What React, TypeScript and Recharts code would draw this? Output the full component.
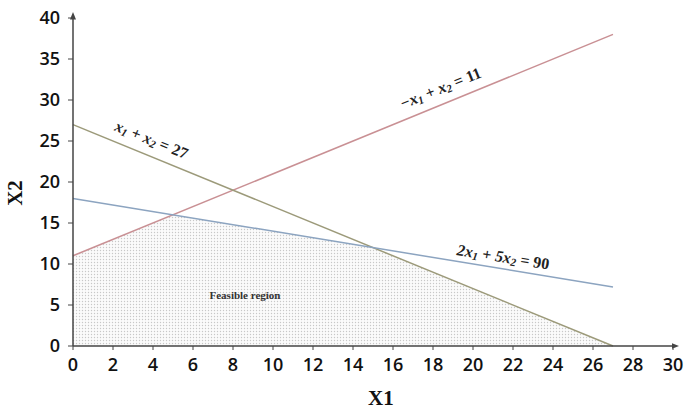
import { ComposedChart, Line, Area, XAxis, YAxis, ReferenceDot } from 'recharts';

// x1 breakpoints of the constraint lines / feasible region
const x1Values = [0, 5, 15, 27];
const redLine = [11, null, null, 38]; // -x1 + x2 = 11
const oliveLine = [27, null, null, 0]; // x1 + x2 = 27
const blueLine = [18, null, null, 7.2]; // 2x1 + 5x2 = 90
const feasible = [11, 16, 12, 0];

const xTicks = [0, 2, 4, 6, 8, 10, 12, 14, 16, 18, 20, 22, 24, 26, 28, 30];
const yTicks = [0, 5, 10, 15, 20, 25, 30, 35, 40];

const data = x1Values.map((x, i) => ({
  x,
  red: redLine[i],
  olive: oliveLine[i],
  blue: blueLine[i],
  feasible: feasible[i],
}));

const eqFont = { fontFamily: '"Liberation Serif", serif', fontStyle: 'italic', fontWeight: 'bold', fontSize: 16, fill: '#222' };

function Sub({ children }: { children: string }) {
  return (
    <tspan dy={3} fontSize={11}>
      {children}
    </tspan>
  );
}

function EqLabel(angle: number, parts: React.ReactNode) {
  return (props: any) => {
    const { cx, cy } = props;
    return (
      <text x={cx} y={cy} textAnchor="middle" dominantBaseline="middle" transform={`rotate(${angle}, ${cx}, ${cy})`} style={eqFont}>
        {parts}
      </text>
    );
  };
}

const redLabel = EqLabel(-22, (
  <>
    <tspan>−x</tspan>
    <Sub>1</Sub>
    <tspan dy={-3}> + x</tspan>
    <Sub>2</Sub>
    <tspan dy={-3} fontStyle="normal"> = 11</tspan>
  </>
));

const oliveLabel = EqLabel(22, (
  <>
    <tspan>x</tspan>
    <Sub>1</Sub>
    <tspan dy={-3}> + x</tspan>
    <Sub>2</Sub>
    <tspan dy={-3} fontStyle="normal"> = 27</tspan>
  </>
));

const blueLabel = EqLabel(9, (
  <>
    <tspan>2x</tspan>
    <Sub>1</Sub>
    <tspan dy={-3}> + 5x</tspan>
    <Sub>2</Sub>
    <tspan dy={-3} fontStyle="normal"> = 90</tspan>
  </>
));

const regionLabel = (props: any) => (
  <text x={props.cx} y={props.cy} textAnchor="middle" dominantBaseline="middle" style={{ fontFamily: '"Liberation Serif", serif', fontWeight: 'bold', fontSize: 11, fill: '#333' }}>
    Feasible region
  </text>
);

const tickStyle = { fontFamily: '"Open Sans", sans-serif', fontWeight: 600, fontSize: 18, fill: '#111' };
const axisTitle = { fontFamily: '"Liberation Serif", serif', fontWeight: 'bold', fontSize: 21, fill: '#111' };

export default function App() {
  return (
    <div style={{ position: 'absolute', left: 0, top: 0, background: '#fff' }}>
      <ComposedChart width={686} height={409} data={data} margin={{ top: 18, right: 13, left: 0, bottom: 0 }}>
        <defs>
          <pattern id="dots" width="3" height="3" patternUnits="userSpaceOnUse">
            <rect width="3" height="3" fill="#fbfbfb" />
            <circle cx="1.5" cy="1.5" r="0.7" fill="#c8c8c8" />
          </pattern>
          <marker id="arrow" viewBox="0 0 10 10" refX="2" refY="5" markerWidth="5" markerHeight="5" orient="auto-start-reverse">
            <path d="M0,1 L10,5 L0,9 z" fill="#444" />
          </marker>
        </defs>
        <XAxis
          dataKey="x"
          type="number"
          domain={[0, 30]}
          ticks={xTicks}
          interval={0}
          height={63}
          tickSize={4}
          tickMargin={8}
          tick={tickStyle}
          stroke="#444"
          axisLine={{ stroke: '#444', strokeWidth: 1.5, markerEnd: 'url(#arrow)' }}
          label={{ content: () => <text x={368} y={405} style={axisTitle}>X1</text> }}
        />
        <YAxis
          type="number"
          domain={[0, 40]}
          ticks={yTicks}
          interval={0}
          width={73}
          tickSize={5}
          tickMargin={8}
          tick={tickStyle}
          stroke="#444"
          axisLine={{ stroke: '#444', strokeWidth: 1.5, markerStart: 'url(#arrow)' }}
          label={{
            content: () => (
              <text x={22} y={193} textAnchor="middle" transform="rotate(-90, 22, 193)" style={axisTitle}>
                X2
              </text>
            ),
          }}
        />
        <Area type="linear" dataKey="feasible" stroke="none" fill="url(#dots)" fillOpacity={1} isAnimationActive={false} connectNulls />
        <Line type="linear" dataKey="red" stroke="#c99094" strokeWidth={1.5} dot={false} connectNulls isAnimationActive={false} />
        <Line type="linear" dataKey="olive" stroke="#9c9a7a" strokeWidth={1.5} dot={false} connectNulls isAnimationActive={false} />
        <Line type="linear" dataKey="blue" stroke="#8ca4c0" strokeWidth={1.5} dot={false} connectNulls isAnimationActive={false} />
        <ReferenceDot x={18.4} y={31.3} r={0} shape={redLabel} />
        <ReferenceDot x={3.9} y={25} r={0} shape={oliveLabel} />
        <ReferenceDot x={21.5} y={10.7} r={0} shape={blueLabel} />
        <ReferenceDot x={8.6} y={6.1} r={0} shape={regionLabel} />
      </ComposedChart>
    </div>
  );
}
